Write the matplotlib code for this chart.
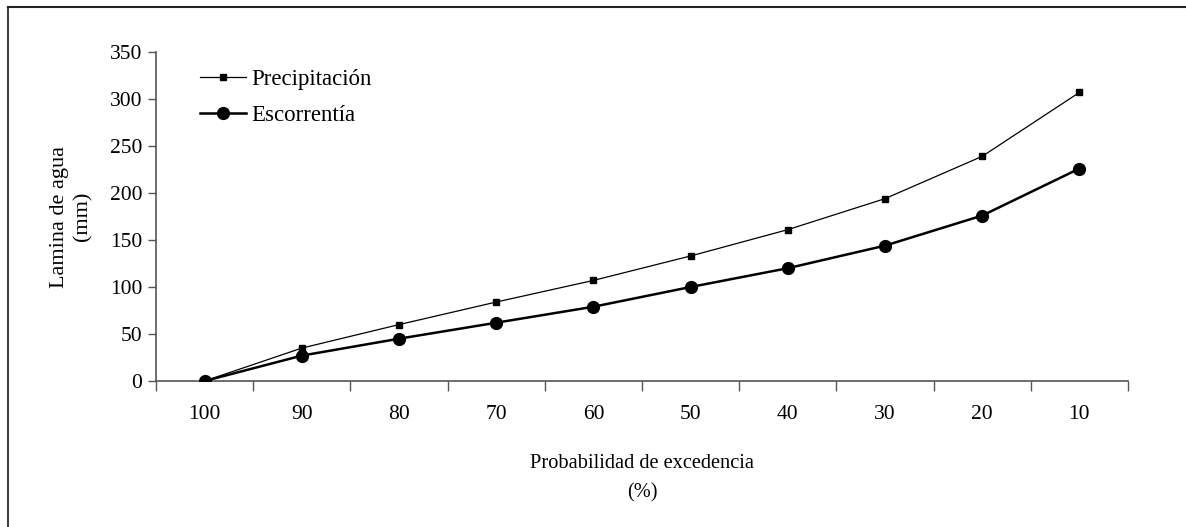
import matplotlib
matplotlib.use("Agg")
import matplotlib.pyplot as plt
from matplotlib.lines import Line2D

plt.rcParams['font.family'] = ['Liberation Serif', 'DejaVu Serif']

# Exceedance probability classes (%) and water depth (mm)
probabilidad = ["100", "90", "80", "70", "60", "50", "40", "30", "20", "10"]
precipitacion = [0, 35, 60, 84, 107, 133, 161, 194, 239, 307]
escorrentia = [0, 27, 45, 62, 79, 100, 120, 144, 176, 226]

fig = plt.figure(figsize=(11.86, 5.27), dpi=100)
ax = fig.add_axes([156 / 1186, 1 - 381 / 527, (1128 - 156) / 1186, (381 - 52) / 527])

x = list(range(1, len(probabilidad) + 1))
ax.plot(x, precipitacion, color='black', lw=0.9, marker='s', markersize=5,
        label='Precipitación', zorder=3)
ax.plot(x, escorrentia, color='black', lw=1.8, marker='o', markersize=8.5,
        label='Escorrentía', zorder=4)

ax.set_xlim(0.5, len(probabilidad) + 0.5)
ax.set_ylim(0, 350)
ax.set_yticks(range(0, 351, 50))
ax.set_xticks(x)
ax.set_xticklabels(probabilidad)
ax.set_xticks([i + 0.5 for i in range(0, len(probabilidad) + 1)], minor=True)
ax.tick_params(axis='x', which='major', length=0, pad=17, labelsize=15.5)
ax.tick_params(axis='x', which='minor', length=7, width=1, color='#555555', direction='out')
ax.tick_params(axis='y', length=6, width=1, color='#555555', direction='out', labelsize=15.5, pad=4)

for side in ('top', 'right'):
    ax.spines[side].set_visible(False)
for side in ('left', 'bottom'):
    ax.spines[side].set_color('#555555')
    ax.spines[side].set_linewidth(1.2)

ax.set_xlabel("Probabilidad de excedencia\n(%)", fontsize=14.7, linespacing=1.7, labelpad=22)
ax.set_ylabel("Lamina de agua\n(mm)", fontsize=16, linespacing=1.3, labelpad=12)

leg = ax.legend(loc='upper left', bbox_to_anchor=(0.024, 1.012), frameon=False,
                fontsize=16.5, handlelength=2.0, handletextpad=0.25, labelspacing=0.65)

# Frame lines around the figure (left and top edges)
fig.add_artist(Line2D([8 / 1186, 8 / 1186], [0, 1 - 7 / 527], transform=fig.transFigure,
                      color='#444444', lw=1.5))
fig.add_artist(Line2D([8 / 1186, 1], [1 - 7 / 527, 1 - 7 / 527], transform=fig.transFigure,
                      color='#222222', lw=1.5))

fig.savefig("out.png", dpi=100)
